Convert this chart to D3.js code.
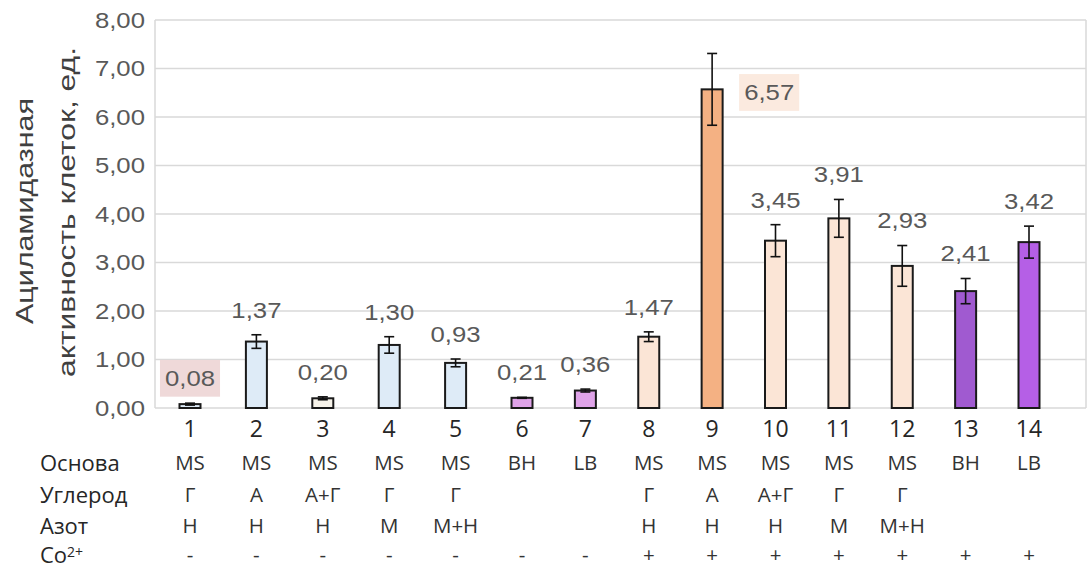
<!DOCTYPE html>
<html>
<head>
<meta charset="utf-8">
<script src="https://cdn.jsdelivr.net/npm/d3@7"></script>
<style>
  html, body { margin: 0; padding: 0; background: #fff; }
  svg { display: block; }
</style>
</head>
<body>
<svg id="chart" width="1089" height="570"></svg>
<script>
// Sample numbers, 1..14
const samples = [1, 2, 3, 4, 5, 6, 7, 8, 9, 10, 11, 12, 13, 14];
// Acylamidase activity (units) and error (±)
const activity = [0.08, 1.37, 0.20, 1.30, 0.93, 0.21, 0.36, 1.47, 6.57, 3.45, 3.91, 2.93, 2.41, 3.42];
const errors   = [0.02, 0.14, 0.03, 0.17, 0.08, 0.01, 0.03, 0.10, 0.74, 0.33, 0.39, 0.42, 0.26, 0.33];
// Medium composition table
const baseRow     = ["MS", "MS", "MS", "MS", "MS", "BH", "LB", "MS", "MS", "MS", "MS", "MS", "BH", "LB"];
const carbonRow   = ["Г", "А", "А+Г", "Г", "Г", "", "", "Г", "А", "А+Г", "Г", "Г", "", ""];
const nitrogenRow = ["Н", "Н", "Н", "М", "М+Н", "", "", "Н", "Н", "Н", "М", "М+Н", "", ""];
const cobaltRow   = ["-", "-", "-", "-", "-", "-", "-", "+", "+", "+", "+", "+", "+", "+"];
const rowLabels   = ["Основа", "Углерод", "Азот", "Co"];
const yTicks = [0, 1, 2, 3, 4, 5, 6, 7, 8];
// Bar fills by group
const barFills = ["#deebf7", "#deebf7", "#f7f3ea", "#deebf7", "#deebf7",
                  "#dfa3e8", "#dfa3e8",
                  "#fbe5d6", "#f4b183", "#fbe5d6", "#fbe5d6", "#fbe5d6",
                  "#a05ad0", "#b55fe6"];

const svg = d3.select("#chart");
const fmt = v => d3.format(".2f")(v).replace(".", ",");

const plotLeft = 155, plotRight = 1086, plotTop = 20, plotBottom = 408;
const y = d3.scaleLinear().domain([0, 8]).range([plotBottom, plotTop]);
const x = d3.scaleLinear().domain([1, 6, 14]).range([190, 522, 1029]);
const barW = 21;
const stretch = 1.17;

// gridlines
svg.append("g").selectAll("line").data(yTicks).join("line")
  .attr("x1", plotLeft).attr("x2", plotRight)
  .attr("y1", d => y(d)).attr("y2", d => y(d))
  .attr("stroke", "#d9d9d9").attr("stroke-width", 1.5);
svg.append("g").selectAll("line").data([plotLeft, plotRight]).join("line")
  .attr("x1", d => d).attr("x2", d => d)
  .attr("y1", plotTop).attr("y2", plotBottom)
  .attr("stroke", "#d9d9d9").attr("stroke-width", 1.5);

// y tick labels
svg.append("g").selectAll("text").data(yTicks).join("text")
  .attr("transform", d => `translate(145,${y(d)}) scale(${stretch},1)`)
  .attr("dy", "0.36em")
  .attr("text-anchor", "end")
  .attr("font-family", "Liberation Sans, Arial, sans-serif")
  .attr("font-size", 22)
  .attr("fill", "#595959")
  .text(d => fmt(d));

// y axis title
const title = svg.append("g").attr("font-family", "Liberation Sans, Arial, sans-serif")
  .attr("font-size", 23).attr("fill", "#404040");
title.append("text")
  .attr("transform", "translate(33,211) rotate(-90)")
  .attr("text-anchor", "middle")
  .attr("textLength", 226).attr("lengthAdjust", "spacingAndGlyphs")
  .text("Ациламидазная");
title.append("text")
  .attr("transform", "translate(75,212) rotate(-90)")
  .attr("text-anchor", "middle")
  .attr("textLength", 330).attr("lengthAdjust", "spacingAndGlyphs")
  .text("активность клеток, ед.");

// bars
svg.append("g").selectAll("rect").data(samples).join("rect")
  .attr("x", (d, i) => x(d) - barW / 2)
  .attr("y", (d, i) => y(activity[i]))
  .attr("width", barW)
  .attr("height", (d, i) => y(0) - y(activity[i]))
  .attr("fill", (d, i) => barFills[i])
  .attr("stroke", "#1a1a1a").attr("stroke-width", 2);

// error bars
const eb = svg.append("g").attr("stroke", "#111").attr("stroke-width", 1.6);
samples.forEach((d, i) => {
  const cx = x(d), hi = y(activity[i] + errors[i]), lo = y(activity[i] - errors[i]);
  eb.append("line").attr("x1", cx).attr("x2", cx).attr("y1", hi).attr("y2", lo);
  eb.append("line").attr("x1", cx - 5).attr("x2", cx + 5).attr("y1", hi).attr("y2", hi);
  eb.append("line").attr("x1", cx - 5).attr("x2", cx + 5).attr("y1", lo).attr("y2", lo);
});

// value labels
const labels = svg.append("g");
samples.forEach((d, i) => {
  const side = d === 9;
  const lx = side ? x(d) + 32 : x(d);
  const ly = side ? y(activity[i]) + 3 : y(activity[i] + errors[i]) - 25;
  const g = labels.append("g").attr("transform", `translate(${lx},${ly})`);
  const t = g.append("text")
    .attr("transform", `scale(${stretch},1)`)
    .attr("dy", "0.36em")
    .attr("text-anchor", side ? "start" : "middle")
    .attr("font-family", "Liberation Sans, Arial, sans-serif")
    .attr("font-size", 22)
    .attr("fill", "#595959")
    .text(fmt(activity[i]));
  if (d === 1 || d === 9) {
    const bb = t.node().getBBox();
    g.insert("rect", "text")
      .attr("x", bb.x * stretch - 5)
      .attr("y", bb.y - 6)
      .attr("width", bb.width * stretch + 10)
      .attr("height", bb.height + 12)
      .attr("fill", d === 1 ? "#efd9d9" : "#fbeadf");
  }
});

// sample numbers row
svg.append("g").selectAll("text").data(samples).join("text")
  .attr("x", d => x(d)).attr("y", 429).attr("dy", "0.36em")
  .attr("text-anchor", "middle")
  .attr("font-family", "Open Sans, sans-serif").attr("font-size", 23)
  .attr("fill", "#262626")
  .text(d => d);

// composition table
const rows = [baseRow, carbonRow, nitrogenRow, cobaltRow];
const rowY = [463, 495, 526, 555];
rows.forEach((row, r) => {
  svg.append("g").selectAll("text").data(samples).join("text")
    .attr("x", d => x(d)).attr("y", rowY[r]).attr("dy", "0.36em")
    .attr("text-anchor", "middle")
    .attr("font-family", "Open Sans, sans-serif").attr("font-size", 20.5)
    .attr("fill", "#333")
    .text((d, i) => row[i]);
});
const rl = svg.append("g").attr("font-family", "Open Sans, sans-serif")
  .attr("font-size", 22).attr("fill", "#262626");
rowLabels.forEach((lab, r) => {
  const t = rl.append("text").attr("x", 40).attr("y", rowY[r]).attr("dy", "0.36em").text(lab);
  if (r === 3) {
    t.append("tspan").attr("font-size", 14).attr("dy", "-0.4em").text("2+");
  }
});
</script>
</body>
</html>
